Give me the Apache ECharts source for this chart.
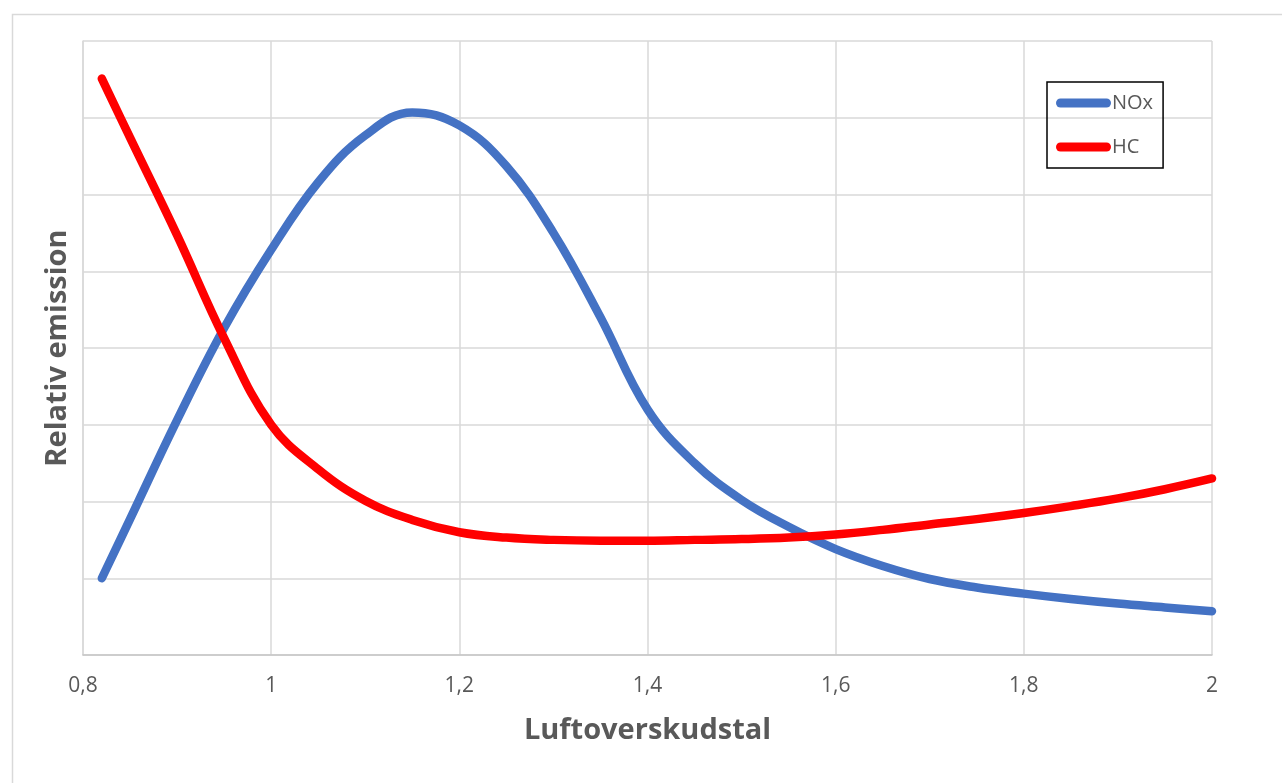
<!DOCTYPE html>
<html>
<head>
<meta charset="utf-8">
<script src="https://cdn.jsdelivr.net/npm/echarts@6/dist/echarts.min.js"></script>
<style>
  html, body { margin: 0; padding: 0; background: #ffffff; }
  #chart { width: 1282px; height: 783px; }
</style>
</head>
<body>
<div id="chart"></div>
<script>
// Luftoverskudstal (lambda) and relative emission per pollutant
const lambda    = [0.82, 0.85, 0.90, 0.95, 1.00, 1.05, 1.10, 1.15, 1.20, 1.25, 1.30, 1.35, 1.40, 1.45, 1.50, 1.55, 1.60, 1.65, 1.70, 1.75, 1.80, 1.85, 1.90, 1.95, 2.00];
const noxValues = [1.00, 1.77, 3.06, 4.26, 5.28, 6.16, 6.77, 7.07, 6.90, 6.37, 5.50, 4.40, 3.20, 2.50, 2.02, 1.67, 1.38, 1.16, 0.99, 0.88, 0.80, 0.73, 0.67, 0.62, 0.57];
const hcValues  = [7.51, 6.74, 5.47, 4.13, 3.00, 2.42, 2.01, 1.76, 1.60, 1.53, 1.50, 1.49, 1.49, 1.50, 1.51, 1.53, 1.57, 1.63, 1.70, 1.77, 1.85, 1.94, 2.04, 2.16, 2.30];

const seriesNames = ['NOx', 'HC'];
const xTitle = 'Luftoverskudstal';
const yTitle = 'Relativ emission';

const pair = (xs, ys) => xs.map((x, i) => [x, ys[i]]);

const textGrey = '#595959';
const gridGrey = '#d9d9d9';
const font = 'Open Sans, Noto Sans, sans-serif';
const capsule = 'path://M4.5,0 L50.5,0 A4.5,4.5 0 0 1 50.5,9 L4.5,9 A4.5,4.5 0 0 1 4.5,0 Z';

const chart = echarts.init(document.getElementById('chart'), null, { renderer: 'canvas' });

chart.setOption({
  backgroundColor: '#ffffff',
  animation: false,
  graphic: [{
    type: 'rect',
    left: 10, top: 12,
    shape: { width: 1320, height: 820 },
    style: { fill: 'none', stroke: gridGrey, lineWidth: 1.5 },
    silent: true,
    z: -10
  }],
  grid: { left: 83, top: 41, right: 70, bottom: 128, containLabel: false },
  legend: {
    orient: 'vertical',
    left: 1047, top: 82,
    padding: [9, 10, 9, 9],
    itemGap: 20,
    itemWidth: 55,
    itemHeight: 9,
    borderColor: '#000000',
    borderWidth: 1.5,
    icon: capsule,
    textStyle: { color: textGrey, fontFamily: font, fontSize: 20, lineHeight: 24, padding: [0, 0, 0, -4] },
    data: seriesNames
  },
  xAxis: {
    type: 'value',
    min: 0.8, max: 2, interval: 0.2,
    name: xTitle,
    nameLocation: 'middle',
    nameGap: 61,
    nameTextStyle: { color: textGrey, fontFamily: font, fontSize: 29, fontWeight: 'bold' },
    axisLine: { show: true, lineStyle: { color: '#c6c6c6', width: 1.5 } },
    axisTick: { show: false },
    axisLabel: {
      color: textGrey, fontFamily: font, fontSize: 21, margin: 21,
      formatter: v => String(+v.toFixed(1)).replace('.', ',')
    },
    splitLine: { show: true, lineStyle: { color: gridGrey, width: 1.5 } }
  },
  yAxis: {
    type: 'value',
    min: 0, max: 8, interval: 1,
    name: yTitle,
    nameLocation: 'middle',
    nameRotate: 90,
    nameGap: 11,
    nameTextStyle: { color: textGrey, fontFamily: font, fontSize: 29, fontWeight: 'bold' },
    axisLine: { show: true, lineStyle: { color: gridGrey, width: 1.5 } },
    axisTick: { show: false },
    axisLabel: { show: false },
    splitLine: { show: true, lineStyle: { color: gridGrey, width: 1.5 } }
  },
  series: [
    {
      name: seriesNames[0],
      type: 'line',
      data: pair(lambda, noxValues),
      smooth: 0.4,
      showSymbol: false,
      color: '#4472c4',
      lineStyle: { width: 8.5, color: '#4472c4', cap: 'round', join: 'round' },
      z: 3
    },
    {
      name: seriesNames[1],
      type: 'line',
      data: pair(lambda, hcValues),
      smooth: 0.4,
      showSymbol: false,
      color: '#ff0000',
      lineStyle: { width: 8.5, color: '#ff0000', cap: 'round', join: 'round' },
      z: 4
    }
  ]
});
</script>
</body>
</html>
